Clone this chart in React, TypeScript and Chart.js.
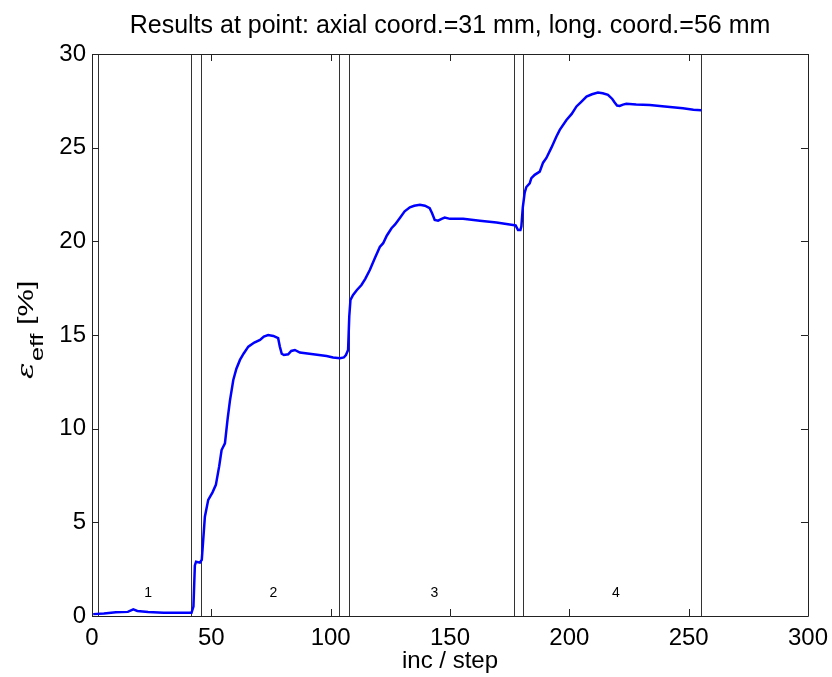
import React, { useEffect, useRef } from "react";
import { Chart, registerables } from "chart.js";

Chart.register(...registerables);

const titleText = "Results at point: axial coord.=31 mm, long. coord.=56 mm";
const xAxisTitle = "inc / step";

const incSteps = [
  0.5, 5, 10, 15, 17.3, 19, 23.5, 30, 41.7, 42.5, 43.1, 43.6, 45.2, 46.0, 46.6, 47.3, 48.7, 50.5,
  51.9, 53.3, 54.3, 55.7, 56.8, 57.8, 59.2, 60.5, 62, 63.5, 65.5, 68, 70.4, 72, 73.8, 76, 78, 78.7,
  79.5, 80.4, 82.2, 83.5, 85, 87.1, 92.7, 98.3, 101, 103.9, 105.5, 106.4, 107.3, 107.8, 108.3,
  109.4, 111, 112.9, 114.5, 116.4, 118.5, 120.6, 122, 123.5, 125.5, 127, 129, 131, 133.2, 135,
  137.4, 139.5, 141.5, 142.5, 143.6, 145, 146.5, 147.8, 150, 155.5, 162.5, 169.5, 176.4, 177.5,
  178.5, 179.5, 179.9, 180.5, 181.3, 182, 183.4, 184.1, 185.5, 187.6, 189, 190.4, 192.5, 194.6,
  196, 198.8, 201, 203, 205, 207.2, 209.5, 212, 214, 216.2, 218, 219, 220, 221.1, 222.5, 223.9,
  228, 233.7, 240, 247.6, 252, 255.3,
];

const epsEff = [
  0.1, 0.13, 0.2, 0.22, 0.35, 0.27, 0.22, 0.18, 0.17, 0.5, 2.7, 2.9, 2.85, 3.0, 4.06, 5.3, 6.2, 6.6,
  7.0, 8.0, 8.86, 9.22, 10.5, 11.5, 12.6, 13.2, 13.67, 14.0, 14.38, 14.6, 14.74, 14.92, 15.0, 14.95,
  14.83, 14.38, 14.0, 13.93, 13.97, 14.15, 14.2, 14.06, 13.97, 13.88, 13.8, 13.76, 13.8, 13.93,
  14.2, 16.0, 16.87, 17.14, 17.4, 17.67, 18.0, 18.47, 19.1, 19.7, 19.9, 20.3, 20.7, 20.9, 21.25,
  21.6, 21.82, 21.9, 21.95, 21.9, 21.77, 21.5, 21.14, 21.1, 21.2, 21.27, 21.2, 21.2, 21.1, 21.0,
  20.87, 20.85, 20.6, 20.6, 20.79, 21.8, 22.6, 22.9, 23.1, 23.37, 23.55, 23.72, 24.2, 24.45, 25.0,
  25.6, 25.95, 26.48, 26.8, 27.2, 27.45, 27.73, 27.85, 27.94, 27.9, 27.82, 27.6, 27.41, 27.25,
  27.23, 27.3, 27.34, 27.3, 27.28, 27.2, 27.1, 27.03, 27.0,
];

const stepBoundaries = [2.5, 41.5, 45.5, 103.5, 107.5, 177, 180.5, 255];
const stepLabels = ["1", "2", "3", "4"];
const stepLabelX = [23.5, 76, 143.5, 219.5];
const stepLabelY = 1.2;

const xTicks = [0, 50, 100, 150, 200, 250, 300];
const yTicks = [0, 5, 10, 15, 20, 25, 30];

const FONT = "'Liberation Sans', Arial, Helvetica, sans-serif";

const decorPlugin = {
  id: "decor",
  beforeDatasetsDraw(chart: any) {
    const { ctx, chartArea, scales } = chart;
    const xs = scales.x;
    const ys = scales.y;
    ctx.save();
    ctx.strokeStyle = "#333";
    ctx.lineWidth = 1;
    stepBoundaries.forEach((v) => {
      const px = Math.round(xs.getPixelForValue(v)) + 0.5;
      ctx.beginPath();
      ctx.moveTo(px, chartArea.top);
      ctx.lineTo(px, chartArea.bottom);
      ctx.stroke();
    });
    ctx.fillStyle = "#000";
    ctx.font = `14px ${FONT}`;
    ctx.textAlign = "center";
    ctx.textBaseline = "middle";
    stepLabels.forEach((t, i) => {
      ctx.fillText(t, xs.getPixelForValue(stepLabelX[i]), ys.getPixelForValue(stepLabelY));
    });
    ctx.restore();
  },
  afterDraw(chart: any) {
    const { ctx, chartArea, scales } = chart;
    const xs = scales.x;
    const ys = scales.y;
    const { left, right, top, bottom } = chartArea;
    ctx.save();
    ctx.strokeStyle = "#222";
    ctx.lineWidth = 1;
    ctx.beginPath();
    ctx.rect(Math.round(left) + 0.5, Math.round(top) + 0.5, Math.round(right - left), Math.round(bottom - top));
    ctx.stroke();
    const tl = 7;
    xTicks.forEach((v) => {
      const px = Math.round(xs.getPixelForValue(v)) + 0.5;
      ctx.beginPath();
      ctx.moveTo(px, bottom);
      ctx.lineTo(px, bottom - tl);
      ctx.moveTo(px, top);
      ctx.lineTo(px, top + tl);
      ctx.stroke();
    });
    yTicks.forEach((v) => {
      const py = Math.round(ys.getPixelForValue(v)) + 0.5;
      ctx.beginPath();
      ctx.moveTo(left, py);
      ctx.lineTo(left + tl, py);
      ctx.moveTo(right, py);
      ctx.lineTo(right - tl, py);
      ctx.stroke();
    });

    // Title
    ctx.fillStyle = "#000";
    ctx.font = `25px ${FONT}`;
    ctx.textAlign = "center";
    ctx.textBaseline = "alphabetic";
    ctx.fillText(titleText, (left + right) / 2, 33);

    // X axis title
    ctx.font = `24px ${FONT}`;
    ctx.fillText(xAxisTitle, (left + right) / 2, 668);

    // Y axis title with subscript
    ctx.translate(33, 379);
    ctx.rotate(-Math.PI / 2);
    ctx.scale(1.4, 1);
    ctx.textAlign = "left";
    ctx.font = `italic 22px 'DejaVu Serif', serif`;
    const eps = "\u03B5";
    ctx.fillText(eps, 0, 0);
    let w = ctx.measureText(eps).width;
    ctx.font = `18px ${FONT}`;
    ctx.fillText("eff", w + 1, 10);
    w += 1 + ctx.measureText("eff").width;
    ctx.font = `22px ${FONT}`;
    ctx.fillText(" [%]", w, 0);
    ctx.restore();
  },
};

export default function App() {
  const ref = useRef<HTMLCanvasElement | null>(null);
  useEffect(() => {
    if (!ref.current) return;
    const chart = new Chart(ref.current, {
      type: "line",
      data: {
        datasets: [
          {
            data: incSteps.map((x, i) => ({ x, y: epsEff[i] })),
            borderColor: "#0000ff",
            borderWidth: 2.5,
            pointRadius: 0,
            tension: 0,
            fill: false,
          },
        ],
      },
      options: {
        responsive: false,
        animation: false,
        devicePixelRatio: 1,
        layout: { padding: { top: 54, right: 24, bottom: 0, left: 0 } },
        plugins: { legend: { display: false }, tooltip: { enabled: false }, title: { display: false } },
        scales: {
          x: {
            type: "linear",
            min: 0,
            max: 300,
            afterBuildTicks: (s: any) => {
              s.ticks = xTicks.map((v) => ({ value: v }));
            },
            ticks: { color: "#000", font: { size: 24, family: FONT }, padding: 4, maxRotation: 0 },
            grid: { display: false, drawTicks: true, tickLength: 4 },
            border: { display: false },
            afterFit: (s: any) => {
              s.height = 61;
            },
          },
          y: {
            type: "linear",
            min: 0,
            max: 30,
            afterBuildTicks: (s: any) => {
              s.ticks = yTicks.map((v) => ({ value: v }));
            },
            ticks: { color: "#000", font: { size: 24, family: FONT }, padding: 2 },
            grid: { display: false, drawTicks: true, tickLength: 4 },
            border: { display: false },
            afterFit: (s: any) => {
              s.width = 92;
            },
          },
        },
      },
      plugins: [decorPlugin],
    });
    return () => chart.destroy();
  }, []);
  return (
    <div style={{ position: "absolute", left: 0, top: 0, width: 832, height: 677, background: "#fff" }}>
      <canvas ref={ref} width={832} height={677} style={{ display: "block" }} />
    </div>
  );
}
